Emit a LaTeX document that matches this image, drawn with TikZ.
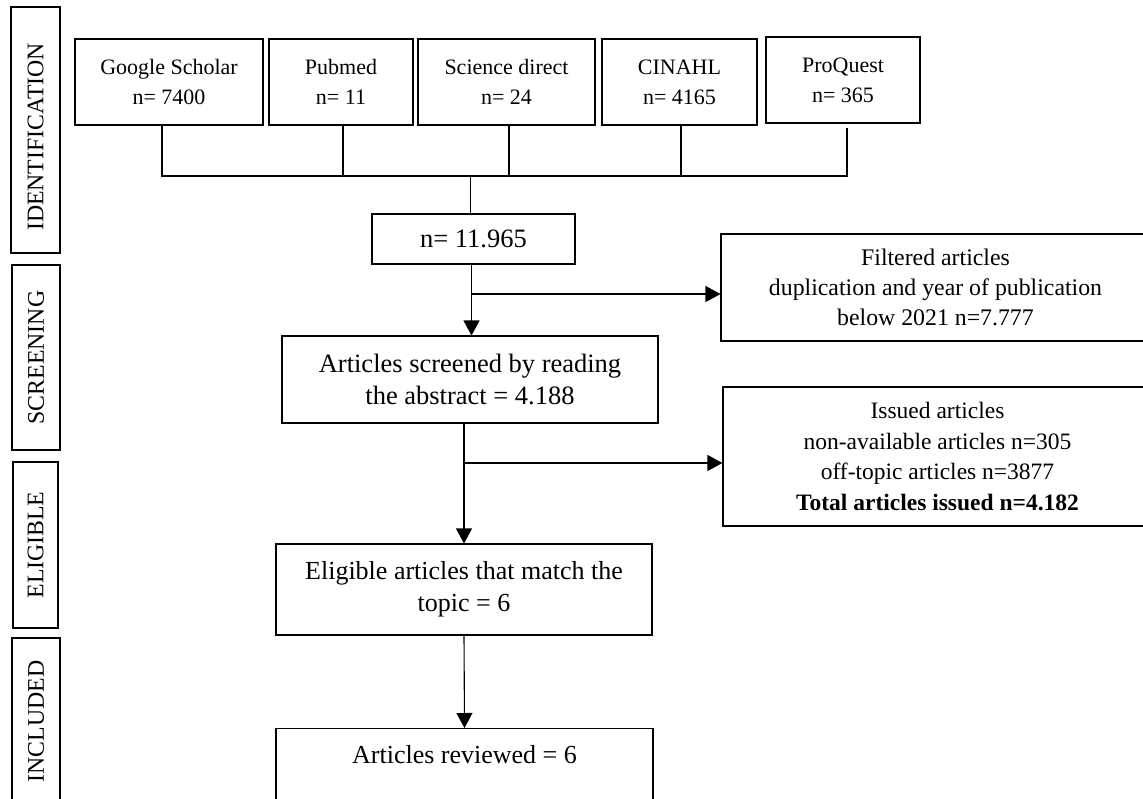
\documentclass[tikz,border=0pt]{standalone}
\usepackage{fontspec}
\setmainfont{Liberation Serif}
\usetikzlibrary{arrows.meta}
\begin{document}
\begin{tikzpicture}[x=1pt,y=-1pt,
  ln/.style={line width=1.1pt},
  arr/.style={line width=1.1pt,-{Triangle[length=15pt,width=16pt]}},
  box/.style={draw,line width=1.1pt,inner sep=0pt,align=center},
  db/.style={box,minimum height=86pt,font=\fontsize{22}{30}\selectfont},
  mid/.style={box,font=\fontsize{26.5}{31.5}\selectfont},
  side/.style={box,rotate=90,font=\fontsize{23.8}{28}\selectfont},
  right/.style={box,font=\fontsize{23.8}{30}\selectfont}]
\clip (0,0) rectangle (1143,798);
\useasboundingbox (0,0) rectangle (1143,798);
% side labels
\node[side,minimum width=246pt,minimum height=49pt] (sidI) at (35.5,130) {IDENTIFICATION\hspace*{14pt}};
\node[side,minimum width=185pt,minimum height=48pt] (sidS) at (36,357.5) {SCREENING};
\node[side,minimum width=166pt,minimum height=45pt] (sidE) at (35.5,545) {ELIGIBLE};
\node[side,minimum width=167pt,minimum height=48pt] (sidN) at (36,721.5) {INCLUDED};
% databases
\node[db,minimum width=188pt] (gs) at (169,82) {Google Scholar\\n= 7400};
\node[db,minimum width=144pt] (pm) at (341,82) {Pubmed\\n= 11};
\node[db,minimum width=177pt] (sd) at (506.5,82) {Science direct\\n= 24};
\node[db,minimum width=155pt] (ci) at (679.5,82) {CINAHL\\n= 4165};
\node[db,minimum width=154pt] (pq) at (843,80) {ProQuest\\n= 365};
% merge
\coordinate (busL) at (162,176);
\coordinate (busR) at (847,176);
\draw[ln] (gs.south -| busL) -- (busL) -- (busR) -- ([yshift=-4pt]pq.south -| busR);
\draw[ln] ([xshift=2pt]pm.south) -- ([xshift=2pt]pm.south |- busL);
\draw[ln] ([xshift=2.5pt]sd.south) -- ([xshift=2.5pt]sd.south |- busL);
\draw[ln] ([xshift=1.5pt]ci.south) -- ([xshift=1.5pt]ci.south |- busL);
\node[mid,minimum width=203pt,minimum height=50pt] (tot) at (473.5,239) {n= 11.965};
\draw[ln] ([xshift=-3pt]tot.north |- busL) -- ([xshift=-3pt]tot.north);
% screening
\node[mid,minimum width=376pt,minimum height=87pt] (scr) at (470,379.5) {Articles screened by reading\\the abstract = 4.188};
\node[right,minimum width=429pt,minimum height=107pt] (filt) at (935.5,287.5) {Filtered articles\\duplication and year of publication\\below 2021 n=7.777};
\draw[arr] ([xshift=-2pt]tot.south) -- ([xshift=-2pt]tot.south |- scr.north);
\coordinate (b1) at (471.5,294);
\draw[arr] (b1) -- (b1 -| filt.west);
% eligibility
\node[mid,minimum width=376pt,minimum height=91pt,font=\fontsize{26}{32}\selectfont] (elig) at (464,589.5) {Eligible articles that match the\\topic = 6};
\node[right,minimum width=429pt,minimum height=139pt,font=\fontsize{23.5}{30.5}\selectfont] (iss) at (937.5,456.5) {Issued articles\\non-available articles n=305\\off-topic articles n=3877\\\textbf{Total articles issued n=4.182}};
\draw[arr] (scr.south -| elig.north) -- (elig.north);
\coordinate (b2) at (464,463);
\draw[arr] (b2) -- (b2 -| iss.west);
% included
\node[box,minimum width=377pt,minimum height=80pt,anchor=north] (rev) at (464.5,728) {};
\node[anchor=base,font=\fontsize{26}{31}\selectfont] (revt) at (464.5,763) {Articles reviewed = 6};
\draw[arr] (elig.south) -- (rev.north);
\end{tikzpicture}
\end{document}
